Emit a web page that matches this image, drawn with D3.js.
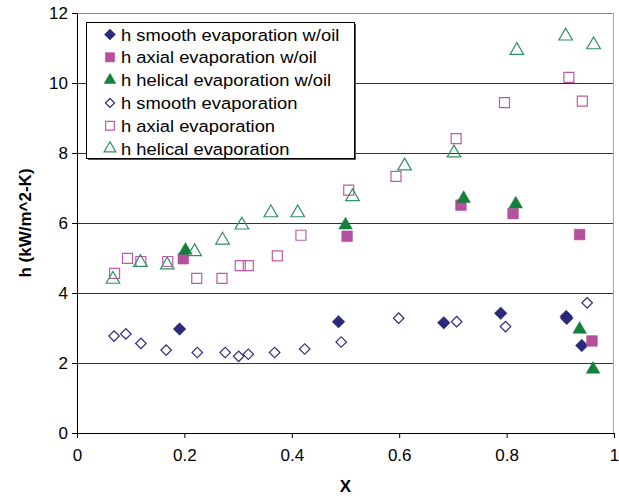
<!DOCTYPE html>
<html>
<head>
<meta charset="utf-8">
<script src="https://cdn.jsdelivr.net/npm/d3@7"></script>
<style>
  body { margin: 0; background: #fff; }
  text { font-family: "Liberation Sans", Arial, sans-serif; }
</style>
</head>
<body>
<div id="chart"></div>
<script>
// series values
var smoothOilX = [0.191, 0.487, 0.683, 0.789, 0.911, 0.912, 0.940];
var smoothOilY = [2.97, 3.18, 3.15, 3.42, 3.33, 3.28, 2.50];
var axialOilX = [0.198, 0.503, 0.715, 0.812, 0.936, 0.959];
var axialOilY = [4.98, 5.62, 6.51, 6.27, 5.67, 2.63];
var helicalOilX = [0.202, 0.500, 0.720, 0.817, 0.936, 0.961];
var helicalOilY = [5.22, 5.94, 6.70, 6.54, 2.96, 1.82];
var smoothX = [0.069, 0.091, 0.119, 0.166, 0.224, 0.276, 0.301, 0.319, 0.368, 0.424, 0.492, 0.599, 0.707, 0.798, 0.912, 0.950];
var smoothY = [2.77, 2.83, 2.56, 2.37, 2.30, 2.30, 2.19, 2.25, 2.30, 2.40, 2.60, 3.28, 3.18, 3.04, 3.27, 3.72];
var axialX = [0.070, 0.094, 0.119, 0.169, 0.223, 0.270, 0.304, 0.319, 0.373, 0.417, 0.506, 0.594, 0.706, 0.796, 0.916, 0.941];
var axialY = [4.56, 4.99, 4.90, 4.90, 4.42, 4.42, 4.78, 4.78, 5.06, 5.65, 6.94, 7.33, 8.41, 9.44, 10.16, 9.48];
var helicalX = [0.067, 0.118, 0.168, 0.219, 0.271, 0.307, 0.361, 0.411, 0.513, 0.610, 0.702, 0.819, 0.910, 0.962];
var helicalY = [4.39, 4.87, 4.80, 5.18, 5.51, 5.94, 6.29, 6.29, 6.75, 7.63, 8.00, 10.93, 11.34, 11.09];

var seriesNames = ["h smooth evaporation w/oil", "h axial evaporation w/oil", "h helical evaporation w/oil",
                   "h smooth evaporation", "h axial evaporation", "h helical evaporation"];
var xTicks = [0, 0.2, 0.4, 0.6, 0.8, 1];
var yTicks = [0, 2, 4, 6, 8, 10, 12];

// square rotated 45 degrees gives an even diamond
var series = [
  { name: seriesNames[0], xs: smoothOilX, ys: smoothOilY, shape: d3.symbolSquare, rot: 45, size: 80, fill: "#2b2a78", stroke: "#2b2a78" },
  { name: seriesNames[1], xs: axialOilX, ys: axialOilY, shape: d3.symbolSquare, rot: 0, size: 115, fill: "#b4509e", stroke: "#b4509e" },
  { name: seriesNames[2], xs: helicalOilX, ys: helicalOilY, shape: d3.symbolTriangle, rot: 0, size: 80, fill: "#14803d", stroke: "#14803d" },
  { name: seriesNames[3], xs: smoothX, ys: smoothY, shape: d3.symbolSquare, rot: 45, size: 55, fill: "none", stroke: "#2b2a78" },
  { name: seriesNames[4], xs: axialX, ys: axialY, shape: d3.symbolSquare, rot: 0, size: 100, fill: "none", stroke: "#c05aa8" },
  { name: seriesNames[5], xs: helicalX, ys: helicalY, shape: d3.symbolTriangle, rot: 0, size: 80, fill: "none", stroke: "#2e9260" }
];

var svgWidth = 619;
var svgHeight = 499;
var margin = { top: 13, right: 5, bottom: 66, left: 77 };
var width = 614 - margin.left;
var height = 433 - margin.top;

var svg = d3.select("#chart")
  .append("svg")
  .attr("width", svgWidth)
  .attr("height", svgHeight);

var chartGroup = svg.append("g")
  .attr("transform", `translate(${margin.left}, ${margin.top})`);

var xScale = d3.scaleLinear().domain([0, 1]).range([0, width]);
var yScale = d3.scaleLinear().domain([0, 12]).range([height, 0]);

// gridlines
chartGroup.selectAll(".grid")
  .data(yTicks.filter(d => d > 0 && d < 12))
  .enter()
  .append("line")
  .attr("x1", 0)
  .attr("x2", width)
  .attr("y1", d => Math.round(yScale(d)) + 0.5)
  .attr("y2", d => Math.round(yScale(d)) + 0.5)
  .attr("stroke", "#333")
  .attr("stroke-width", 1);

// plot border top/right
chartGroup.append("line")
  .attr("x1", 0).attr("x2", width)
  .attr("y1", 0.5).attr("y2", 0.5)
  .attr("stroke", "#888");
chartGroup.append("line")
  .attr("x1", width - 0.5).attr("x2", width - 0.5)
  .attr("y1", 0).attr("y2", height)
  .attr("stroke", "#aaa");

// axes
var bottomAxis = d3.axisBottom(xScale).tickValues(xTicks).tickSize(5).tickSizeOuter(0)
  .tickFormat(d => d3.format("")(d));
var leftAxis = d3.axisLeft(yScale).tickValues(yTicks).tickSize(5).tickSizeOuter(0);

var xAxisG = chartGroup.append("g")
  .attr("transform", `translate(0, ${height})`)
  .call(bottomAxis);
var yAxisG = chartGroup.append("g")
  .call(leftAxis);

[xAxisG, yAxisG].forEach(function(g) {
  g.selectAll("path, line").attr("stroke", "#000");
  g.selectAll("text")
    .attr("fill", "#000")
    .style("font-size", "17px")
    .style("font-family", "'Liberation Sans', Arial, sans-serif");
});
xAxisG.selectAll("text").attr("dy", "1.15em");
yAxisG.selectAll("text").attr("x", -9);

// data markers
series.forEach(function(s) {
  var pts = s.xs.map((x, i) => ({ x: x, y: s.ys[i] }));
  chartGroup.append("g")
    .selectAll("path")
    .data(pts)
    .enter()
    .append("path")
    .attr("transform", d => `translate(${xScale(d.x)}, ${yScale(d.y)}) rotate(${s.rot})`)
    .attr("d", d3.symbol().type(s.shape).size(s.size))
    .attr("fill", s.fill)
    .attr("stroke", s.stroke)
    .attr("stroke-width", s.fill === "none" ? 1.2 : 0.5);
});

// legend
var legend = svg.append("g").attr("transform", "translate(86, 22)");
legend.append("rect")
  .attr("x", 2).attr("y", 2)
  .attr("width", 268).attr("height", 136)
  .attr("fill", "#555");
legend.append("rect")
  .attr("x", 0.5).attr("y", 0.5)
  .attr("width", 268).attr("height", 136)
  .attr("fill", "#fff")
  .attr("stroke", "#000");

var legendRows = legend.selectAll(".row")
  .data(series)
  .enter()
  .append("g")
  .attr("transform", (d, i) => `translate(24, ${12.5 + i * 22.8})`);

legendRows.append("path")
  .attr("transform", d => `rotate(${d.rot})`)
  .attr("d", d => d3.symbol().type(d.shape).size(d.size * 0.75)())
  .attr("fill", d => d.fill)
  .attr("stroke", d => d.stroke)
  .attr("stroke-width", d => d.fill === "none" ? 1.2 : 0.5);

legendRows.append("text")
  .attr("transform", "translate(11, 6) scale(1.08, 1)")
  .style("font-size", "17px")
  .attr("fill", "#000")
  .text(d => d.name);

// axis labels
svg.append("text")
  .attr("transform", `translate(31, ${margin.top + height / 2}) rotate(-90)`)
  .attr("text-anchor", "middle")
  .style("font-size", "17px")
  .style("font-weight", "bold")
  .text("h (kW/m^2-K)");

svg.append("text")
  .attr("x", margin.left + width / 2)
  .attr("y", 492)
  .attr("text-anchor", "middle")
  .style("font-size", "17px")
  .style("font-weight", "bold")
  .text("X");
</script>
</body>
</html>
